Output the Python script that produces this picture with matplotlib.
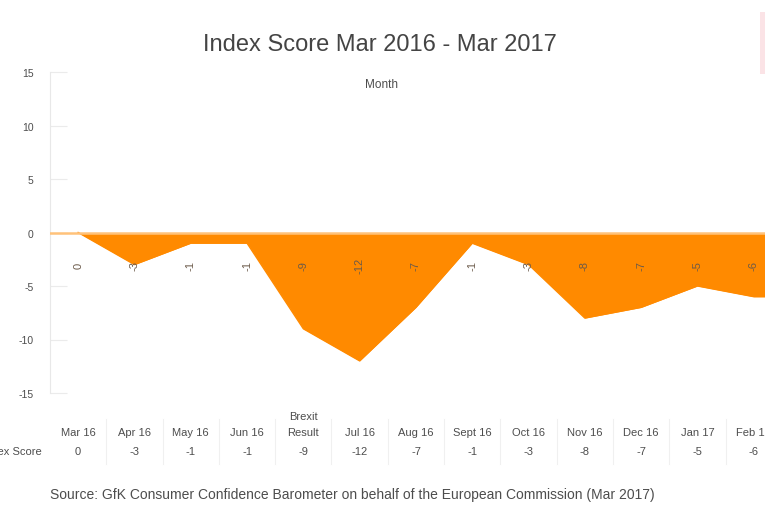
import matplotlib
matplotlib.use("Agg")
import matplotlib.pyplot as plt
import matplotlib.transforms as mtransforms
from matplotlib.patches import Rectangle

plt.rcParams['font.family'] = ['Liberation Sans', 'DejaVu Sans']

months = ["Mar 16", "Apr 16", "May 16", "Jun 16", "Brexit\nResult", "Jul 16", "Aug 16",
          "Sept 16", "Oct 16", "Nov 16", "Dec 16", "Jan 17", "Feb 17", "Mar 17"]
scores = [0, -3, -1, -1, -9, -12, -7, -1, -3, -8, -7, -5, -6, -6]
yticks = [15, 10, 5, 0, -5, -10, -15]

title = "Index Score Mar 2016 - Mar 2017"
subtitle = "Month"
row_label = "Index Score"
source = "Source: GfK Consumer Confidence Barometer on behalf of the European Commission (Mar 2017)"

orange = "#FF8A00"
grey = "#4d4d4d"

W, H = 765, 510
fig = plt.figure(figsize=(W / 100, H / 100), dpi=100)
ax = fig.add_axes([50 / W, 116 / H, (W - 50) / W + 0.05, (394 - 73) / H])

x = list(range(len(scores)))
ax.fill_between(x, scores, 0, color=orange, linewidth=0)
ax.plot(x, scores, color=orange, linewidth=1)
ax.axhline(0, color="#FFC27A", linewidth=1.8, zorder=3)

ax.set_xlim(-0.5, 12.2 + 0.05 * W / 56.3)
ax.set_ylim(-15, 15)
ax.set_yticks(yticks)
ax.set_yticklabels([str(v) for v in yticks], fontsize=7.5, color=grey)
ax.tick_params(axis='y', direction='in', length=12, color="#ebebeb", pad=12)
ax.set_xticks([])
for s in ["top", "right", "bottom"]:
    ax.spines[s].set_visible(False)
ax.spines["left"].set_color("#e8e8e8")

# rotated data labels
for xi, v in zip(x, scores):
    ax.text(xi, -3.0, str(v), rotation=90, ha="center", va="center", fontsize=8,
            color="#6b5a4a", zorder=4, clip_on=True)

# table below
trans = mtransforms.blended_transform_factory(ax.transData, fig.transFigure)
for xi, (m, v) in enumerate(zip(months, scores)):
    ax.text(xi, 1 - 436 / H, m, transform=trans, ha="center", va="baseline",
            fontsize=8, color=grey, clip_on=False, linespacing=1.8)
    ax.text(xi, 1 - 452 / H, str(v), transform=trans, ha="center", va="center",
            fontsize=8, color=grey, clip_on=False)
    ax.plot([xi + 0.5, xi + 0.5], [1 - 420 / H, 1 - 465 / H], transform=trans,
            color="#f0f0f0", linewidth=0.8, clip_on=False)
fig.text(42 / W, 1 - 452 / H, row_label, ha="right", va="center", fontsize=8, color=grey)

fig.text(380 / W, 1 - 45 / H, title, ha="center", va="center", fontsize=17, color="#444444")
fig.text(382 / W, 1 - 85 / H, subtitle, ha="center", va="center", fontsize=8.5, color=grey)
fig.text(50 / W, 1 - 495 / H, source, ha="left", va="center", fontsize=10, color=grey)

fig.patches.append(Rectangle((760 / W, 1 - 75 / H), 10 / W, 62 / H, transform=fig.transFigure,
                             facecolor="#FBE3E6", edgecolor="none"))

fig.savefig("out.png", dpi=100)
